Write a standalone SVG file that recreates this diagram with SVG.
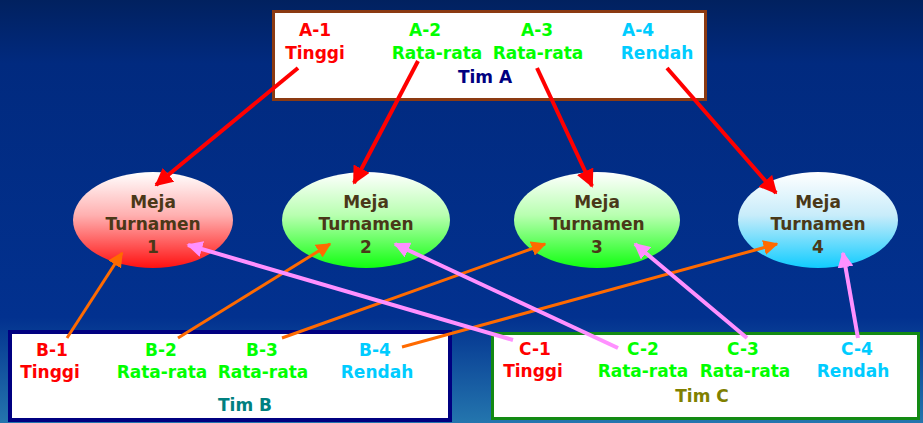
<svg xmlns="http://www.w3.org/2000/svg" width="923" height="423" viewBox="0 0 923 423">
<defs>
<linearGradient id="bg" x1="0" y1="0" x2="0" y2="1">
<stop offset="0" stop-color="#01215f"/>
<stop offset="0.15" stop-color="#012a7f"/>
<stop offset="0.75" stop-color="#02318f"/>
<stop offset="1" stop-color="#2476ae"/>
</linearGradient>
<linearGradient id="gRed" x1="0" y1="0" x2="0" y2="1">
<stop offset="0" stop-color="#ffffff"/>
<stop offset="0.45" stop-color="#ffb0b0"/>
<stop offset="1" stop-color="#ff1010"/>
</linearGradient>
<linearGradient id="gGreen" x1="0" y1="0" x2="0" y2="1">
<stop offset="0" stop-color="#ffffff"/>
<stop offset="0.45" stop-color="#b8ffb0"/>
<stop offset="1" stop-color="#10ff10"/>
</linearGradient>
<linearGradient id="gBlue" x1="0" y1="0" x2="0" y2="1">
<stop offset="0" stop-color="#ffffff"/>
<stop offset="0.45" stop-color="#c8ecfa"/>
<stop offset="1" stop-color="#10ccff"/>
</linearGradient>
<marker id="mRed" viewBox="0 0 10 10" refX="9" refY="5" markerWidth="4.5" markerHeight="4.5" orient="auto" markerUnits="strokeWidth">
<path d="M0,0 L10,5 L0,10 z" fill="#ff0000"/>
</marker>
<marker id="mOrange" viewBox="0 0 10 10" refX="9" refY="5" markerWidth="5" markerHeight="5" orient="auto" markerUnits="strokeWidth">
<path d="M0,0 L10,5 L0,10 z" fill="#ff6a00"/>
</marker>
<marker id="mPink" viewBox="0 0 10 10" refX="9" refY="5" markerWidth="4" markerHeight="4" orient="auto" markerUnits="strokeWidth">
<path d="M0,0 L10,5 L0,10 z" fill="#ff90ff"/>
</marker>
</defs>
<style>
text{font-family:"DejaVu Sans","Verdana",sans-serif;font-weight:bold;font-size:17px;text-anchor:middle}
.red{fill:#ff0000}
.grn{fill:#00ff00}
.cyn{fill:#00ccff}
.node{fill:#4a3818}
.ra{stroke:#ff0000;stroke-width:4;fill:none;marker-end:url(#mRed)}
.oa{stroke:#ff6a00;stroke-width:3;fill:none;marker-end:url(#mOrange)}
.pa{stroke:#ff90ff;stroke-width:4;fill:none;marker-end:url(#mPink)}
</style>
<rect x="0" y="0" width="923" height="423" fill="url(#bg)"/>

<g id="timA">
<rect x="273.5" y="11.5" width="432" height="88" fill="#ffffff" stroke="#8b3a12" stroke-width="3"/>
<text x="315" y="36" class="red">A-1</text>
<text x="315" y="59" class="red">Tinggi</text>
<text x="425" y="36" class="grn">A-2</text>
<text x="437" y="59" class="grn">Rata-rata</text>
<text x="537" y="36" class="grn">A-3</text>
<text x="538" y="59" class="grn">Rata-rata</text>
<text x="638" y="36" class="cyn">A-4</text>
<text x="657" y="59" class="cyn">Rendah</text>
<text x="485" y="83" fill="#000080">Tim A</text>
</g>

<g id="meja1">
<ellipse cx="153" cy="220" rx="80" ry="48" fill="url(#gRed)"/>
<text x="153" y="208" class="node">Meja</text>
<text x="153" y="230" class="node">Turnamen</text>
<text x="153" y="253" class="node">1</text>
</g>
<g id="meja2">
<ellipse cx="366" cy="220" rx="84" ry="48" fill="url(#gGreen)"/>
<text x="366" y="208" class="node">Meja</text>
<text x="366" y="230" class="node">Turnamen</text>
<text x="366" y="253" class="node">2</text>
</g>
<g id="meja3">
<ellipse cx="597" cy="220" rx="83" ry="48" fill="url(#gGreen)"/>
<text x="597" y="208" class="node">Meja</text>
<text x="597" y="230" class="node">Turnamen</text>
<text x="597" y="253" class="node">3</text>
</g>
<g id="meja4">
<ellipse cx="818" cy="220" rx="80" ry="48" fill="url(#gBlue)"/>
<text x="818" y="208" class="node">Meja</text>
<text x="818" y="230" class="node">Turnamen</text>
<text x="818" y="253" class="node">4</text>
</g>

<g id="timB">
<rect x="10" y="332" width="440" height="88" fill="#ffffff" stroke="#000080" stroke-width="4"/>
<text x="52" y="356" class="red">B-1</text>
<text x="50" y="378" class="red">Tinggi</text>
<text x="161" y="356" class="grn">B-2</text>
<text x="162" y="378" class="grn">Rata-rata</text>
<text x="262" y="356" class="grn">B-3</text>
<text x="263" y="378" class="grn">Rata-rata</text>
<text x="375" y="356" class="cyn">B-4</text>
<text x="377" y="378" class="cyn">Rendah</text>
<text x="245" y="411" fill="#008080">Tim B</text>
</g>

<g id="timC">
<rect x="492.5" y="333.5" width="426" height="85" fill="#ffffff" stroke="#138a13" stroke-width="3"/>
<text x="535" y="355" class="red">C-1</text>
<text x="533" y="377" class="red">Tinggi</text>
<text x="643" y="355" class="grn">C-2</text>
<text x="643" y="377" class="grn">Rata-rata</text>
<text x="743" y="355" class="grn">C-3</text>
<text x="745" y="377" class="grn">Rata-rata</text>
<text x="857" y="355" class="cyn">C-4</text>
<text x="853" y="377" class="cyn">Rendah</text>
<text x="702" y="402" fill="#808000">Tim C</text>
</g>

<g id="connectors">
<line x1="298" y1="68" x2="156" y2="185" class="ra"/>
<line x1="418" y1="61" x2="354" y2="183" class="ra"/>
<line x1="537" y1="68" x2="592" y2="186" class="ra"/>
<line x1="667" y1="68" x2="776" y2="193" class="ra"/>
<line x1="67" y1="338" x2="122" y2="253" class="oa"/>
<line x1="178" y1="338" x2="330" y2="244" class="oa"/>
<line x1="282" y1="338" x2="545" y2="244" class="oa"/>
<line x1="402" y1="347" x2="777" y2="244" class="oa"/>
<line x1="513" y1="340" x2="188" y2="245" class="pa"/>
<line x1="618" y1="348" x2="395" y2="244" class="pa"/>
<line x1="747" y1="338" x2="635" y2="244" class="pa"/>
<line x1="858" y1="338" x2="843" y2="253" class="pa"/>
</g>
</svg>
